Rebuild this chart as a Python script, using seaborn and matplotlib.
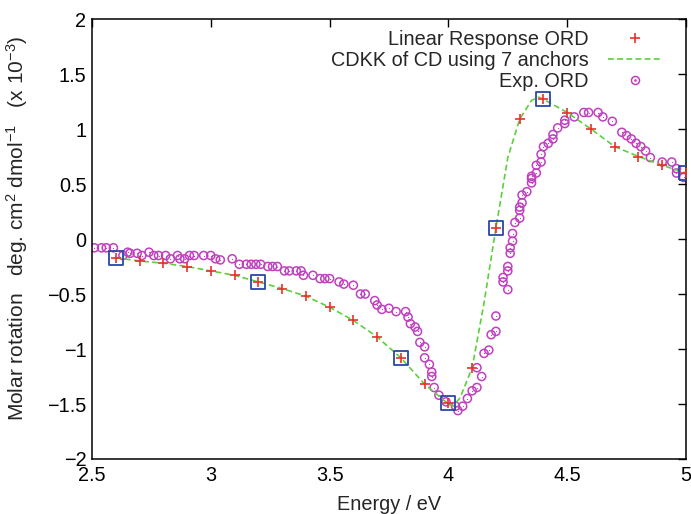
import matplotlib
matplotlib.use("Agg")
import matplotlib.pyplot as plt
import seaborn as sns
import pandas as pd
from matplotlib.legend_handler import HandlerTuple
from matplotlib.lines import Line2D

# ---------------- data ----------------
lr_energy = [2.6, 2.7, 2.8, 2.9, 3.0, 3.1, 3.2, 3.3, 3.4, 3.5, 3.6, 3.7, 3.8,
             3.9, 4.0, 4.1, 4.2, 4.3, 4.4, 4.5, 4.6, 4.7, 4.8, 4.9, 5.0]
lr_ord = [-0.17, -0.20, -0.22, -0.25, -0.29, -0.33, -0.39, -0.45, -0.52, -0.62,
          -0.74, -0.89, -1.08, -1.32, -1.49, -1.17, 0.10, 1.09, 1.27, 1.15,
          1.00, 0.84, 0.75, 0.67, 0.60]

anchor_energy = [2.6, 3.2, 3.8, 4.0, 4.2, 4.4, 5.0]
anchor_ord = [-0.17, -0.39, -1.08, -1.49, 0.10, 1.27, 0.60]

cdkk_energy = [2.6, 2.7, 2.8, 2.9, 3.0, 3.1, 3.2, 3.3, 3.4, 3.5, 3.6, 3.7, 3.8,
               3.9, 4.0, 4.02, 4.05, 4.1, 4.15, 4.2, 4.25, 4.3, 4.35, 4.38,
               4.4, 4.45, 4.5, 4.6, 4.7, 4.8, 4.9, 5.0]
cdkk_ord = [-0.17, -0.20, -0.22, -0.25, -0.29, -0.33, -0.39, -0.45, -0.52, -0.62,
            -0.74, -0.89, -1.08, -1.32, -1.50, -1.52, -1.44, -1.17, -0.58, 0.10,
            0.74, 1.09, 1.26, 1.29, 1.27, 1.21, 1.15, 1.00, 0.84, 0.75, 0.67, 0.60]

exp_energy = [2.51, 2.54, 2.56, 2.59, 2.63, 2.65, 2.66, 2.69, 2.71, 2.74, 2.76,
              2.78, 2.81, 2.83, 2.86, 2.87, 2.89, 2.91, 2.93, 2.97, 3.00, 3.02,
              3.04, 3.09, 3.12, 3.15, 3.17, 3.19, 3.21, 3.24, 3.26, 3.28, 3.31,
              3.33, 3.36, 3.38, 3.39, 3.43, 3.46, 3.48, 3.50, 3.54, 3.56, 3.60,
              3.63, 3.65, 3.69, 3.70, 3.72, 3.75, 3.78, 3.82, 3.83, 3.84, 3.86,
              3.87, 3.88, 3.90, 3.90, 3.92, 3.93, 3.93, 3.94, 3.96, 3.99, 4.03,
              4.04, 4.06, 4.08, 4.10, 4.12, 4.14, 4.12, 4.15, 4.17, 4.18, 4.20,
              4.20, 4.25, 4.23, 4.23, 4.25, 4.25, 4.26, 4.26, 4.27, 4.27, 4.28,
              4.30, 4.30, 4.30, 4.31, 4.31, 4.33, 4.35, 4.35, 4.35, 4.37, 4.37,
              4.39, 4.39, 4.40, 4.42, 4.44, 4.44, 4.46, 4.49, 4.49, 4.53, 4.57,
              4.59, 4.63, 4.65, 4.69, 4.73, 4.75, 4.77, 4.79, 4.81, 4.83, 4.85,
              4.90, 4.94, 4.96, 4.96, 4.99]
exp_ord = [-0.08, -0.08, -0.08, -0.08, -0.15, -0.12, -0.13, -0.13, -0.15, -0.12,
           -0.15, -0.15, -0.15, -0.18, -0.15, -0.18, -0.18, -0.15, -0.15, -0.15,
           -0.15, -0.18, -0.19, -0.18, -0.23, -0.23, -0.23, -0.23, -0.23, -0.25,
           -0.25, -0.25, -0.29, -0.29, -0.29, -0.29, -0.33, -0.33, -0.36, -0.36,
           -0.36, -0.39, -0.41, -0.42, -0.50, -0.50, -0.56, -0.60, -0.64, -0.63,
           -0.66, -0.66, -0.71, -0.77, -0.80, -0.84, -0.94, -0.98, -1.08, -1.14,
           -1.21, -1.25, -1.35, -1.42, -1.48, -1.52, -1.56, -1.52, -1.45, -1.38,
           -1.35, -1.25, -1.17, -1.04, -1.01, -0.87, -0.84, -0.70, -0.46, -0.39,
           -0.35, -0.29, -0.25, -0.13, -0.08, -0.02, 0.05, 0.15, 0.19, 0.26,
           0.29, 0.33, 0.40, 0.43, 0.51, 0.55, 0.57, 0.60, 0.67, 0.70, 0.77,
           0.84, 0.87, 0.91, 0.95, 1.01, 1.05, 1.08, 1.11, 1.15, 1.15, 1.15,
           1.11, 1.07, 0.97, 0.94, 0.91, 0.87, 0.84, 0.80, 0.74, 0.70, 0.70,
           0.64, 0.60, 0.56]

x_ticks = [2.5, 3.0, 3.5, 4.0, 4.5, 5.0]
x_ticklabels = ["2.5", "3", "3.5", "4", "4.5", "5"]
y_ticks = [-2, -1.5, -1, -0.5, 0, 0.5, 1, 1.5, 2]
y_ticklabels = ["\u22122", "\u22121.5", "\u22121", "\u22120.5", "0", "0.5", "1", "1.5", "2"]

# ---------------- style ----------------
sns.set_style("white")
plt.rcParams["font.family"] = ["Liberation Sans", "DejaVu Sans"]
plt.rcParams["mathtext.fontset"] = "custom"
plt.rcParams["mathtext.rm"] = "Liberation Sans"
plt.rcParams["mathtext.it"] = "Liberation Sans:italic"
plt.rcParams["mathtext.bf"] = "Liberation Sans:bold"

FS = 14.3
RED = "#e8322a"
GREEN = "#5ccf3c"
MAGENTA = "#c040c0"
BLUE = "#2a46a8"
DASH = (0, (3.5, 2.0))

fig = plt.figure(figsize=(6.91, 5.14), dpi=100)
ax = fig.add_axes([92 / 691, 1 - 459 / 514, (686 - 92) / 691, (459 - 19) / 514])

df_lr = pd.DataFrame({"E": lr_energy, "ORD": lr_ord})
df_anchor = pd.DataFrame({"E": anchor_energy, "ORD": anchor_ord})
df_cdkk = pd.DataFrame({"E": cdkk_energy, "ORD": cdkk_ord})
df_exp = pd.DataFrame({"E": exp_energy, "ORD": exp_ord})

# Experimental ORD: open circles with centre dot
sns.scatterplot(data=df_exp, x="E", y="ORD", ax=ax, marker="o", s=34,
                facecolor="none", edgecolor=MAGENTA, linewidth=1.1,
                legend=False, zorder=2)
sns.scatterplot(data=df_exp, x="E", y="ORD", ax=ax, marker=".", s=3,
                color=MAGENTA, edgecolor=MAGENTA, linewidth=0,
                legend=False, zorder=2)

# CDKK curve
sns.lineplot(data=df_cdkk, x="E", y="ORD", ax=ax, color=GREEN, linewidth=1.2,
             linestyle=DASH, legend=False, zorder=3, sort=False)

# Linear response ORD
sns.scatterplot(data=df_lr, x="E", y="ORD", ax=ax, marker="+", s=45,
                color=RED, linewidth=1.2, legend=False, zorder=4)

# Anchors
sns.scatterplot(data=df_anchor, x="E", y="ORD", ax=ax, marker="s", s=100,
                facecolor="none", edgecolor=BLUE, linewidth=1.3,
                legend=False, zorder=5)

ax.set_xlim(2.5, 5.0)
ax.set_ylim(-2, 2)
ax.set_xticks(x_ticks)
ax.set_xticklabels(x_ticklabels)
ax.set_yticks(y_ticks)
ax.set_yticklabels(y_ticklabels)
ax.tick_params(direction="in", length=6, width=1.0, top=True, right=True,
               labelsize=FS, pad=4, colors="black")
ax.tick_params(axis="x", pad=5)

for sp in ax.spines.values():
    sp.set_visible(True)
    sp.set_color("black")
    sp.set_linewidth(1.1)

ax.set_xlabel("Energy / eV", fontsize=FS, labelpad=7)
ax.set_ylabel(r"Molar rotation   deg. cm$^2$ dmol$^{-1}$   (x 10$^{-3}$)", fontsize=15.0)
ax.yaxis.set_label_coords(-0.104, 0.525)

# Legend
h_lr = Line2D([], [], linestyle="none", marker="+", markersize=6.7,
              markeredgewidth=1.2, color=RED)
h_cdkk = Line2D([], [], color=GREEN, linewidth=1.2, linestyle=DASH)
h_circ = Line2D([], [], linestyle="none", marker="o", markersize=5.8,
                markerfacecolor="none", markeredgecolor=MAGENTA, markeredgewidth=1.1)
h_dot = Line2D([], [], linestyle="none", marker=".", markersize=1.8, color=MAGENTA)
leg = ax.legend([h_lr, h_cdkk, (h_circ, h_dot)],
                ["Linear Response ORD", "CDKK of CD using 7 anchors", "Exp. ORD"],
                handler_map={tuple: HandlerTuple(ndivide=1)},
                loc="upper right", bbox_to_anchor=((662 - 92) / 594, 1 - (30 - 19) / 440),
                markerfirst=False, frameon=False, fontsize=FS, handlelength=2.7,
                handletextpad=1.0, labelspacing=0.1, borderpad=0, borderaxespad=0)

fig.savefig("out.png", dpi=100, facecolor="white")
